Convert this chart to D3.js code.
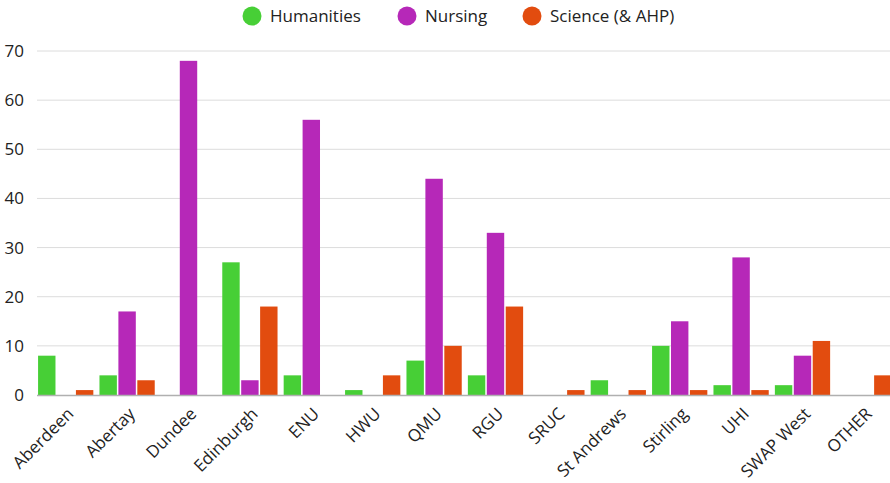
<!DOCTYPE html>
<html><head><meta charset="utf-8">
<script src="https://cdn.jsdelivr.net/npm/d3@7"></script>
<style>
html,body{margin:0;padding:0;background:#fff;overflow:hidden}
text{font-family:"Open Sans",sans-serif;fill:#222}
</style></head>
<body><svg id="c" width="890" height="483"></svg>
<script>
const categories = ["Aberdeen","Abertay","Dundee","Edinburgh","ENU","HWU","QMU","RGU","SRUC","St Andrews","Stirling","UHI","SWAP West","OTHER"];
const seriesNames = ["Humanities","Nursing","Science (& AHP)"];
const humanities = [8,4,0,27,4,1,7,4,0,3,10,2,2,0];
const nursing    = [0,17,68,3,56,0,44,33,0,0,15,28,8,0];
const science    = [1,3,0,18,0,4,10,18,1,1,1,1,11,4];
const yTicks = [0,10,20,30,40,50,60,70];
const colors = ["#47cf36","#b628b8","#e24c0f"];

const series = [humanities, nursing, science];
const svg = d3.select("#c");
const W = 890, H = 483;
const x0 = 35, step = 61.4;
const x = d3.scaleBand().domain(categories).range([x0, x0 + step*categories.length]).paddingInner(0.1).paddingOuter(0.05);
const xs = d3.scaleBand().domain(seriesNames).range([0, x.bandwidth()]).paddingInner(0.08);
const y = d3.scaleLinear().domain([0,70]).range([395,51]);

// gridlines
svg.append("g").selectAll("line").data(yTicks.filter(d=>d>0)).join("line")
  .attr("x1", 37).attr("x2", W).attr("y1", d=>y(d)).attr("y2", d=>y(d))
  .attr("stroke", "#dcdcdc").attr("stroke-width", 1);

// y axis labels
const yAxis = d3.axisLeft(y).tickValues(yTicks).tickSize(0).tickPadding(0);
const ya = svg.append("g").attr("transform","translate(24,0)").call(yAxis);
ya.select(".domain").remove();
ya.selectAll("text").style("font-size","17px").attr("fill","#222").attr("font-family","Open Sans");

// bars
const groups = svg.append("g").selectAll("g").data(categories).join("g")
  .attr("transform", d=>`translate(${x(d)},0)`);
groups.selectAll("rect").data((d,i)=>seriesNames.map((s,j)=>({s, v:series[j][i], j})).filter(e=>e.v>0)).join("rect")
  .attr("x", e=>xs(e.s)).attr("width", xs.bandwidth())
  .attr("y", e=>y(e.v)).attr("height", e=>y(0)-y(e.v))
  .attr("fill", e=>colors[e.j]);

// baseline
svg.append("line").attr("x1",37).attr("x2",W).attr("y1",y(0)+0.5).attr("y2",y(0)+0.5)
  .attr("stroke","#b0b0b0").attr("stroke-width",1.5);

// x labels
const xAxis = d3.axisBottom(x).tickSize(0).tickPadding(0);
const xa = svg.append("g").attr("transform",`translate(0,${y(0)})`).call(xAxis);
xa.select(".domain").remove();
xa.selectAll("text").style("font-size","17px").attr("fill","#222").attr("font-family","Open Sans")
  .attr("text-anchor","end").attr("dy",null).attr("y",0)
  .attr("transform","translate(9,20) rotate(-45)");

// legend
const legendItems = [{n:seriesNames[0], cx:252},{n:seriesNames[1], cx:407},{n:seriesNames[2], cx:532}];
const lg = svg.append("g").selectAll("g").data(legendItems).join("g");
lg.append("circle").attr("cx",d=>d.cx).attr("cy",16).attr("r",9.5).attr("fill",(d,i)=>colors[i]);
lg.append("text").attr("x",d=>d.cx+18).attr("y",16).attr("dy","0.35em").style("font-size","17px").text(d=>d.n);
</script></body></html>
